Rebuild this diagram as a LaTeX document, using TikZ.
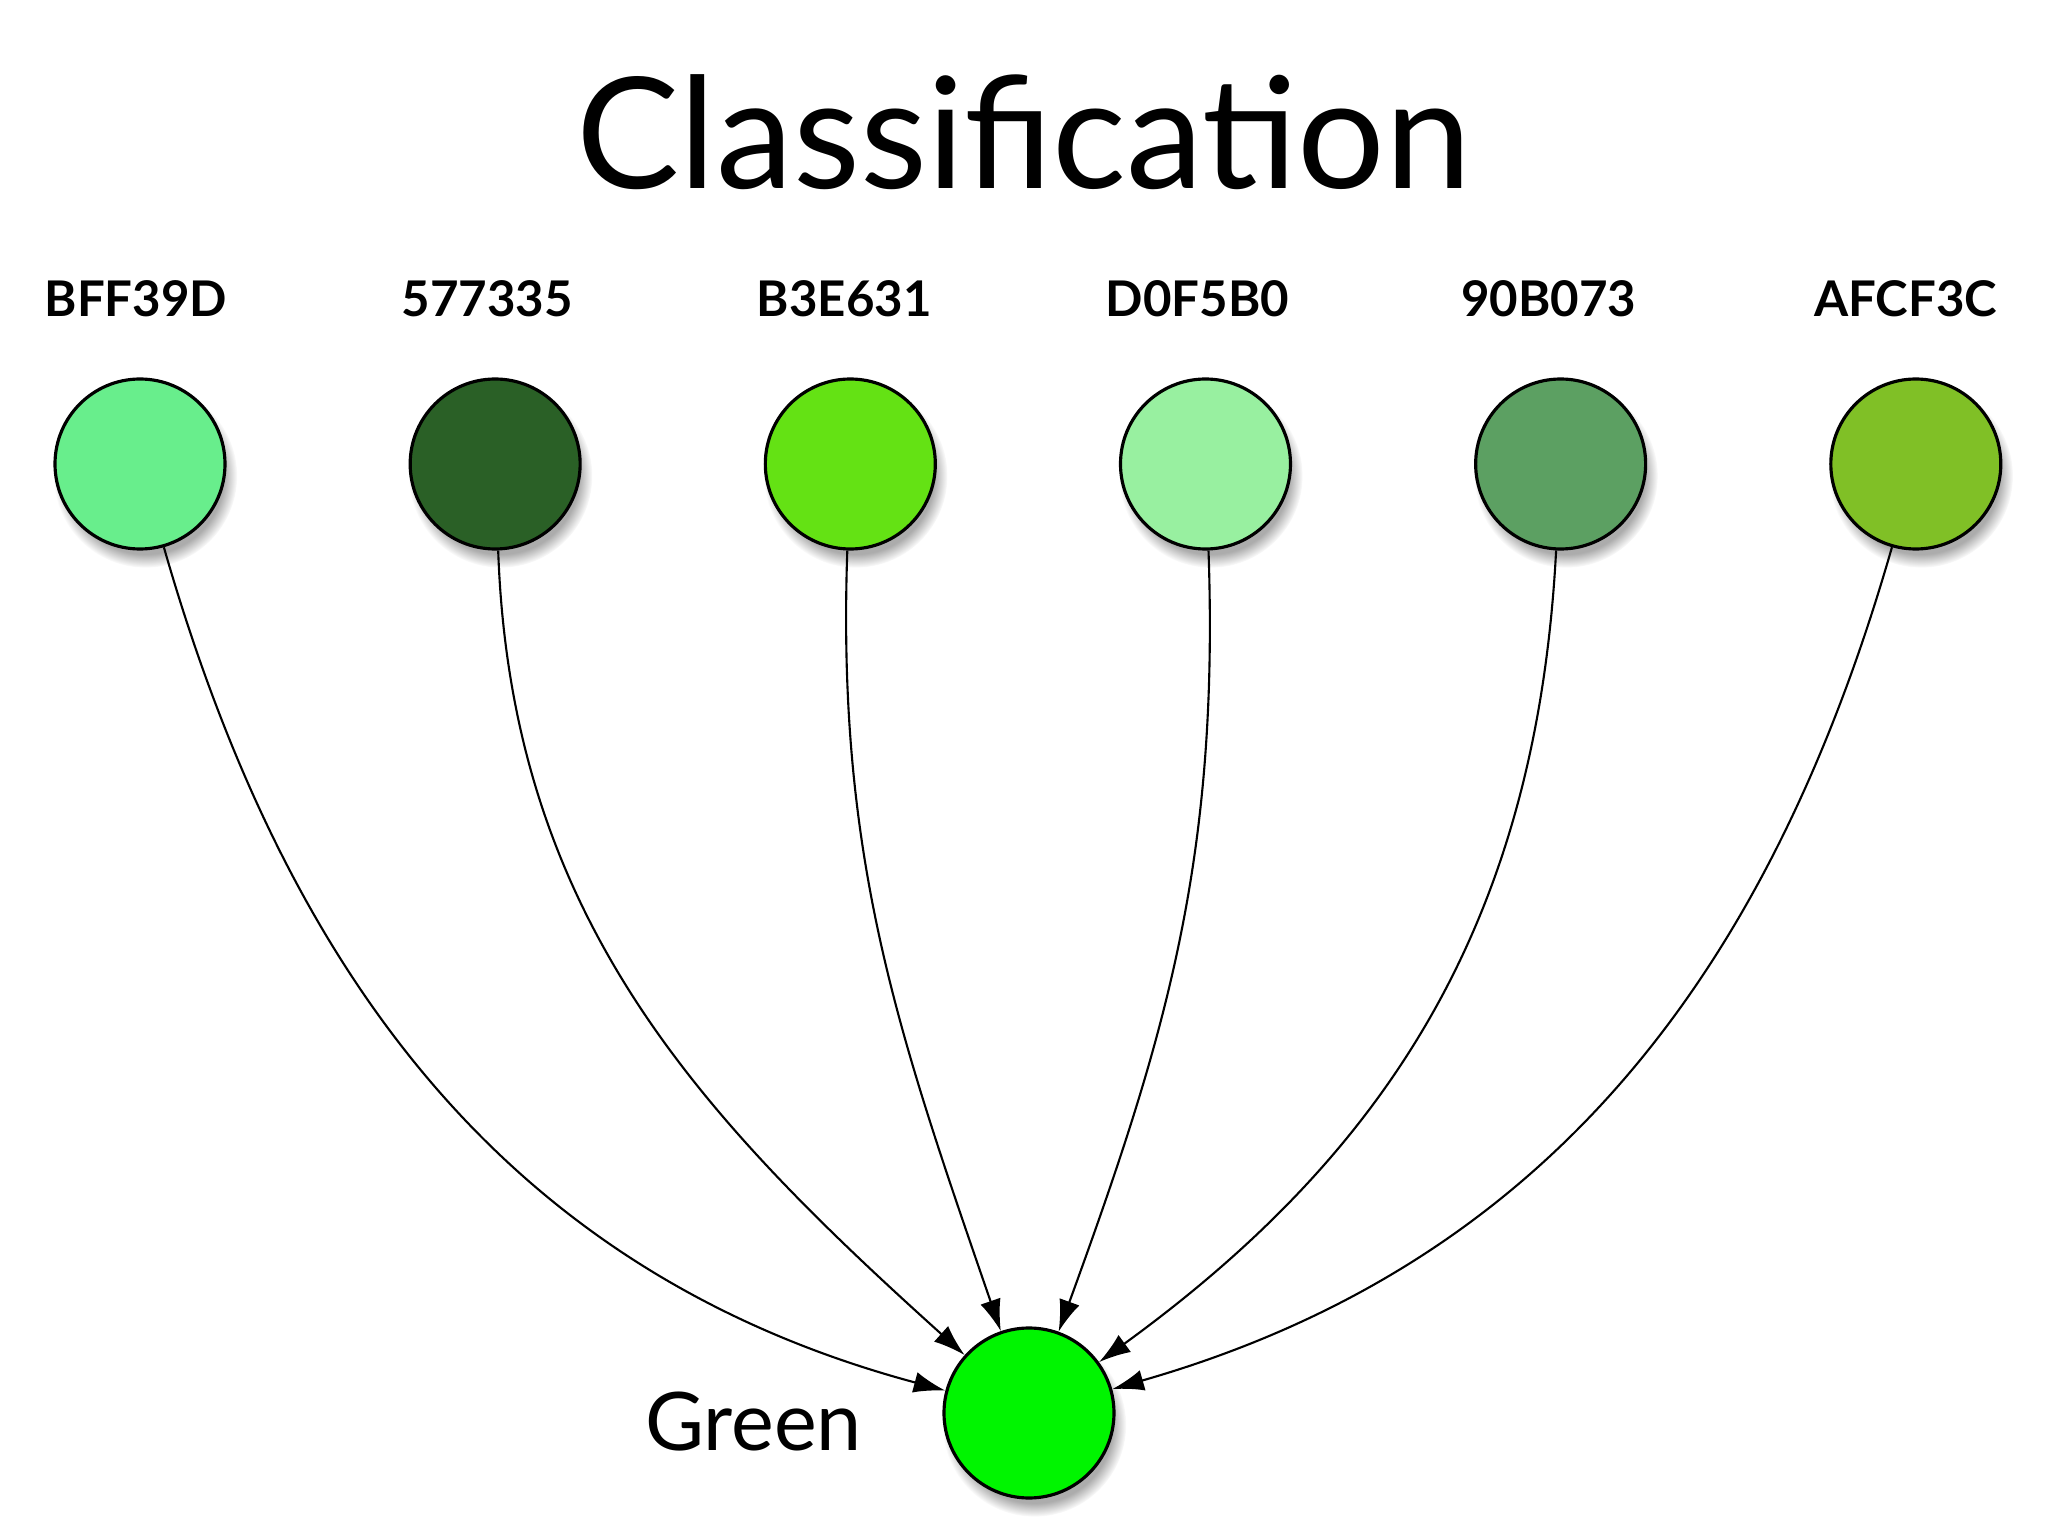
\documentclass[tikz,border=0pt]{standalone}
\usepackage{fontspec}
\setmainfont{Lato}
\usetikzlibrary{positioning,shadows,arrows.meta}

\definecolor{colA}{HTML}{68EE8C}
\definecolor{colB}{HTML}{2A6026}
\definecolor{colC}{HTML}{64E214}
\definecolor{colD}{HTML}{98F0A0}
\definecolor{colE}{HTML}{5CA062}
\definecolor{colF}{HTML}{80C026}
\definecolor{colG}{HTML}{00F500}

\begin{document}
\begin{tikzpicture}[
    node distance=1.82cm,
    swatch/.style={circle, draw, line width=0.9pt, minimum size=1.7cm, inner sep=0pt, circular drop shadow={shadow xshift=0.05cm, shadow yshift=-0.11cm, shadow scale=1.08, opacity=0.65}},
    hexname/.style={font=\bfseries\fontsize{14}{16}\selectfont},
    arrow/.style={->, >={Latex[length=9pt,width=6pt]}, line width=0.6pt}
]
    \useasboundingbox (0,0) rectangle (20.48,-15.36);

    % Title
    \node[font=\fontsize{44}{50}\selectfont, anchor=base] (title) at (10.24,-1.89) {Classification};

    % Input colours
    \node[swatch, fill=colA] (in1) at (1.40,-4.64) {};
    \node[swatch, fill=colB, right=of in1] (in2) {};
    \node[swatch, fill=colC, right=of in2] (in3) {};
    \node[swatch, fill=colD, right=of in3] (in4) {};
    \node[swatch, fill=colE, right=of in4] (in5) {};
    \node[swatch, fill=colF, right=of in5] (in6) {};

    % Hex names
    \node[hexname, above=0.48cm of in1, xshift=-0.04cm] (name1) {BFF39D};
    \node[hexname, above=0.48cm of in2, xshift=-0.08cm] (name2) {577335};
    \node[hexname, above=0.48cm of in3, xshift=-0.06cm] (name3) {B3E631};
    \node[hexname, above=0.48cm of in4, xshift=-0.08cm] (name4) {D0F5B0};
    \node[hexname, above=0.48cm of in5, xshift=-0.12cm] (name5) {90B073};
    \node[hexname, above=0.48cm of in6, xshift=-0.10cm] (name6) {AFCF3C};

    % Class
    \node[swatch, fill=colG] (green) at (10.29,-14.13) {};
    \node[font=\fontsize{23}{27}\selectfont, left=0.68cm of green, yshift=-0.09cm] (lgreen) {Green};

    % Connections
    \draw[arrow] (in1) to[out=-74, in=165] (green);
    \draw[arrow] (in2) to[out=-88, in=138] (green);
    \draw[arrow] (in3) to[out=-92, in=109] (green);
    \draw[arrow] (in4) to[out=-88, in=70] (green);
    \draw[arrow] (in5) to[out=-93, in=36] (green);
    \draw[arrow] (in6) to[out=-106, in=16] (green);
\end{tikzpicture}
\end{document}
